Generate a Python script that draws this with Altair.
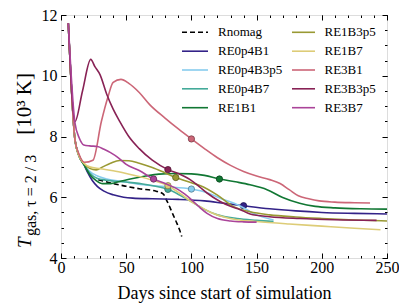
import altair as alt
import pandas as pd

FONT = "Liberation Serif"

# ---------------- data ----------------
names = ["Rnomag", "RE0p4B1", "RE0p4B3p5", "RE0p4B7", "RE1B1",
         "RE1B3p5", "RE1B7", "RE3B1", "RE3B3p5", "RE3B7"]
colors = ["#000000", "#332288", "#88CCEE", "#44AA99", "#117733",
          "#999933", "#DDCC77", "#CC6677", "#882255", "#AA4499"]

rnomag_days = [28.6, 40, 50, 60, 73, 78.5, 81, 83.7, 86, 88.8, 91, 92.6]
rnomag_temp = [6.58, 6.45, 6.36, 6.28, 6.2, 6.1, 5.9, 5.65, 5.42, 5.15, 4.92, 4.71]

re0p4b1_days = [5.6, 10.7, 13.5, 17.5, 20, 24, 28, 33, 40, 48, 55, 70, 90, 110, 125, 140, 160, 180, 200, 225, 250]
re0p4b1_temp = [11.73, 7.9, 7.4, 7.08, 6.85, 6.55, 6.35, 6.2, 6.08, 6.0, 5.97, 5.95, 5.93, 5.88, 5.8, 5.72, 5.62, 5.55, 5.5, 5.47, 5.45]

re0p4b3p5_days = [5.6, 10.7, 13.5, 17.5, 22, 28, 35, 50, 61, 80, 100, 112, 122, 137, 150, 163]
re0p4b3p5_temp = [11.73, 7.9, 7.4, 7.08, 6.85, 6.7, 6.6, 6.5, 6.42, 6.35, 6.27, 6.15, 5.97, 5.72, 5.42, 5.25]

re0p4b7_days = [5.6, 10.7, 13.5, 17.5, 22, 28, 35, 50, 65, 82, 92, 100, 110, 120, 135, 150, 163]
re0p4b7_temp = [11.73, 7.9, 7.4, 7.08, 6.8, 6.62, 6.56, 6.5, 6.42, 6.26, 6.05, 5.86, 5.6, 5.42, 5.3, 5.24, 5.2]

re1b1_days = [5.6, 10.7, 13.5, 17.5, 22, 27, 32, 38, 45, 55, 65, 75, 88, 100, 110, 122, 135, 145, 158, 170, 183, 195, 210, 230, 250]
re1b1_temp = [11.73, 7.9, 7.4, 7.08, 6.75, 6.55, 6.45, 6.45, 6.52, 6.62, 6.7, 6.76, 6.78, 6.77, 6.72, 6.6, 6.5, 6.41, 6.25, 5.99, 5.8, 5.7, 5.65, 5.62, 5.61]

re1b3p5_days = [5.6, 10.7, 13.5, 17.5, 22, 27, 32, 38, 45, 52, 60, 70, 80, 88, 100, 107, 120, 132, 145, 160, 180, 200, 225, 250]
re1b3p5_temp = [11.73, 7.9, 7.4, 7.12, 6.95, 6.9, 7.0, 7.12, 7.21, 7.2, 7.12, 6.98, 6.8, 6.65, 6.48, 6.38, 6.07, 5.7, 5.52, 5.42, 5.35, 5.3, 5.25, 5.22]

re1b7_days = [5.6, 10.7, 13.5, 17.5, 22, 30, 40, 50, 60, 70, 82, 92, 100, 107, 115, 125, 135, 150, 175, 200, 225, 245]
re1b7_temp = [11.73, 7.9, 7.4, 7.12, 7.0, 6.94, 6.87, 6.78, 6.68, 6.56, 6.38, 6.1, 5.85, 5.68, 5.5, 5.35, 5.26, 5.2, 5.12, 5.05, 4.98, 4.93]

re3b1_days = [5.6, 10.7, 14, 18, 24.5, 31, 36, 40, 46, 52, 60, 68, 80, 90, 100, 110, 120, 130, 140, 150, 160, 168, 175, 182, 190, 198, 210, 225, 237]
re3b1_temp = [11.73, 7.9, 7.4, 7.15, 7.22, 8.5, 9.3, 9.78, 9.88, 9.75, 9.45, 9.05, 8.6, 8.25, 7.92, 7.6, 7.3, 7.05, 6.85, 6.7, 6.58, 6.45, 6.25, 6.05, 5.95, 5.88, 5.84, 5.82, 5.81]

re3b3p5_days = [5.6, 10.7, 16.5, 22.8, 26, 30, 35, 40, 45, 52, 60, 70, 82, 90, 99, 106, 112, 122, 130, 137, 145, 160, 183, 210, 242]
re3b3p5_temp = [11.73, 8.49, 9.5, 10.54, 10.3, 10.03, 9.4, 8.9, 8.5, 8.0, 7.6, 7.22, 6.91, 6.78, 6.58, 6.35, 6.14, 5.86, 5.7, 5.6, 5.45, 5.36, 5.3, 5.26, 5.24]

re3b7_days = [5.6, 10.7, 14, 17.5, 22, 28, 33, 38, 44, 50, 60, 71, 80, 88, 95, 100, 106, 112, 120, 130, 140, 150]
re3b7_temp = [11.73, 8.45, 7.95, 7.72, 7.69, 7.67, 7.58, 7.47, 7.3, 7.08, 6.88, 6.6, 6.45, 6.3, 6.1, 5.92, 5.68, 5.47, 5.3, 5.22, 5.19, 5.18]

marker_days = [None, 140, 100, 82, 121.5, 88, 82, 100, 82, 71]
marker_temp = [None, 5.72, 6.27, 6.26, 6.60, 6.65, 6.38, 7.92, 6.91, 6.60]

x_major = [0, 50, 100, 150, 200, 250]
y_major = [4, 6, 8, 10, 12]
x_minor = list(range(0, 251, 10))
y_minor = [4 + 0.5 * k for k in range(17)]

series_days = [rnomag_days, re0p4b1_days, re0p4b3p5_days, re0p4b7_days, re1b1_days,
               re1b3p5_days, re1b7_days, re3b1_days, re3b3p5_days, re3b7_days]
series_temp = [rnomag_temp, re0p4b1_temp, re0p4b3p5_temp, re0p4b7_temp, re1b1_temp,
               re1b3p5_temp, re1b7_temp, re3b1_temp, re3b3p5_temp, re3b7_temp]

# ---------------- helpers ----------------
W, H = 326, 243
xs = alt.Scale(domain=[0, 250], nice=False, zero=False)
ys = alt.Scale(domain=[4, 12], nice=False, zero=False)


def darker(hexc, f=0.6):
    r, g, b = int(hexc[1:3], 16), int(hexc[3:5], 16), int(hexc[5:7], 16)
    return "#%02x%02x%02x" % (int(r * f), int(g * f), int(b * f))


marker_df = pd.DataFrame({
    "name": names[1:], "day": marker_days[1:], "temp": marker_temp[1:]
})

layers = []
for i, nm in enumerate(names):
    d = pd.DataFrame({"day": series_days[i], "temp": series_temp[i]})
    if nm == "Rnomag":
        ln = alt.Chart(d).mark_line(color=colors[i], strokeWidth=1.6, strokeDash=[5, 3],
                                    interpolate="monotone")
    else:
        ln = alt.Chart(d).mark_line(color=colors[i], strokeWidth=1.6, interpolate="monotone")
    layers.append(ln.encode(x=alt.X("day:Q", scale=xs, axis=None),
                            y=alt.Y("temp:Q", scale=ys, axis=None)))
    if marker_days[i] is not None:
        md = pd.DataFrame({"day": [marker_days[i]], "temp": [marker_temp[i]]})
        layers.append(
            alt.Chart(md).mark_circle(size=40, color=colors[i], opacity=1,
                                      stroke=darker(colors[i]), strokeWidth=0.8)
            .encode(x=alt.X("day:Q", scale=xs, axis=None),
                    y=alt.Y("temp:Q", scale=ys, axis=None)))

# ---------------- axes (inward ticks on all four sides) ----------------
common_axis = dict(domain=False, grid=False, tickColor="black", tickWidth=1)


def axis_layer(xaxis, yaxis):
    return alt.Chart(marker_df).mark_point(opacity=0).encode(
        x=alt.X("day:Q", scale=xs, axis=xaxis),
        y=alt.Y("temp:Q", scale=ys, axis=yaxis))


layers.append(axis_layer(
    alt.Axis(orient="bottom", values=x_major, tickSize=5, offset=-5, labelFont=FONT,
             labelFontSize=16, labelColor="black", labelPadding=1.5, labelFlush=False,
             labelOverlap=False, title="Days since start of simulation", titleFont=FONT,
             titleFontSize=18, titleFontWeight="normal", titleColor="black",
             titlePadding=9, **common_axis),
    alt.Axis(orient="left", values=y_major, tickSize=5, offset=-5, labelFont=FONT,
             labelFontSize=16, labelColor="black", labelPadding=4, labelFlush=False,
             labelOverlap=False, title=None, **common_axis)))
layers.append(axis_layer(
    alt.Axis(orient="bottom", values=x_minor, tickSize=2.5, offset=-2.5, labels=False,
             title=None, **common_axis),
    alt.Axis(orient="left", values=y_minor, tickSize=2.5, offset=-2.5, labels=False,
             title=None, **common_axis)))
layers.append(axis_layer(
    alt.Axis(orient="top", values=x_major, tickSize=5, offset=-5, labels=False,
             title=None, **common_axis),
    alt.Axis(orient="right", values=y_major, tickSize=5, offset=-5, labels=False,
             title=None, **common_axis)))
layers.append(axis_layer(
    alt.Axis(orient="top", values=x_minor, tickSize=2.5, offset=-2.5, labels=False,
             title=None, **common_axis),
    alt.Axis(orient="right", values=y_minor, tickSize=2.5, offset=-2.5, labels=False,
             title=None, **common_axis)))

# ---------------- legend (two columns) ----------------
one = alt.Data(values=[{}])
row_y = [17.3, 36.2, 55.0, 73.8, 92.7]
col_line = [(121, 147), (231, 254)]
col_text = [157, 263.5]
for i, nm in enumerate(names):
    c, r = i // 5, i % 5
    x0, x1 = col_line[c]
    rule = alt.Chart(one).mark_rule(
        color=colors[i], strokeWidth=1.6,
        **({"strokeDash": [5, 3]} if nm == "Rnomag" else {}))
    layers.append(rule.encode(x=alt.value(x0), x2=alt.value(x1), y=alt.value(row_y[r])))
    layers.append(alt.Chart(one).mark_text(
        align="left", baseline="middle", font=FONT, fontSize=13, color="black")
        .encode(x=alt.value(col_text[c]), y=alt.value(row_y[r]), text=alt.value(nm)))

# ---------------- y-axis title pieces ----------------
layers.append(alt.Chart(one).mark_text(
    angle=270, align="left", baseline="alphabetic", font=FONT, fontSize=19,
    fontStyle="italic", color="black")
    .encode(x=alt.value(-30), y=alt.value(233), text=alt.value("T")))
layers.append(alt.Chart(one).mark_text(
    angle=270, align="left", baseline="alphabetic", font=FONT, fontSize=16,
    color="black")
    .encode(x=alt.value(-25), y=alt.value(221), text=alt.value("gas, τ = 2 / 3")))
layers.append(alt.Chart(one).mark_text(
    angle=270, align="right", baseline="alphabetic", font=FONT, fontSize=21,
    color="black")
    .encode(x=alt.value(-30), y=alt.value(58), text=alt.value("[10³ K]")))

chart = alt.layer(*layers).resolve_axis(x="independent", y="independent").properties(
    width=W, height=H,
    autosize=alt.AutoSizeParams(type="none"),
    padding={"left": 53, "top": 7, "right": 12, "bottom": 46},
).configure_view(stroke="black", strokeWidth=1.3).configure(background="white")

chart.save("out.html", embed_options={"renderer": "svg", "actions": False})
